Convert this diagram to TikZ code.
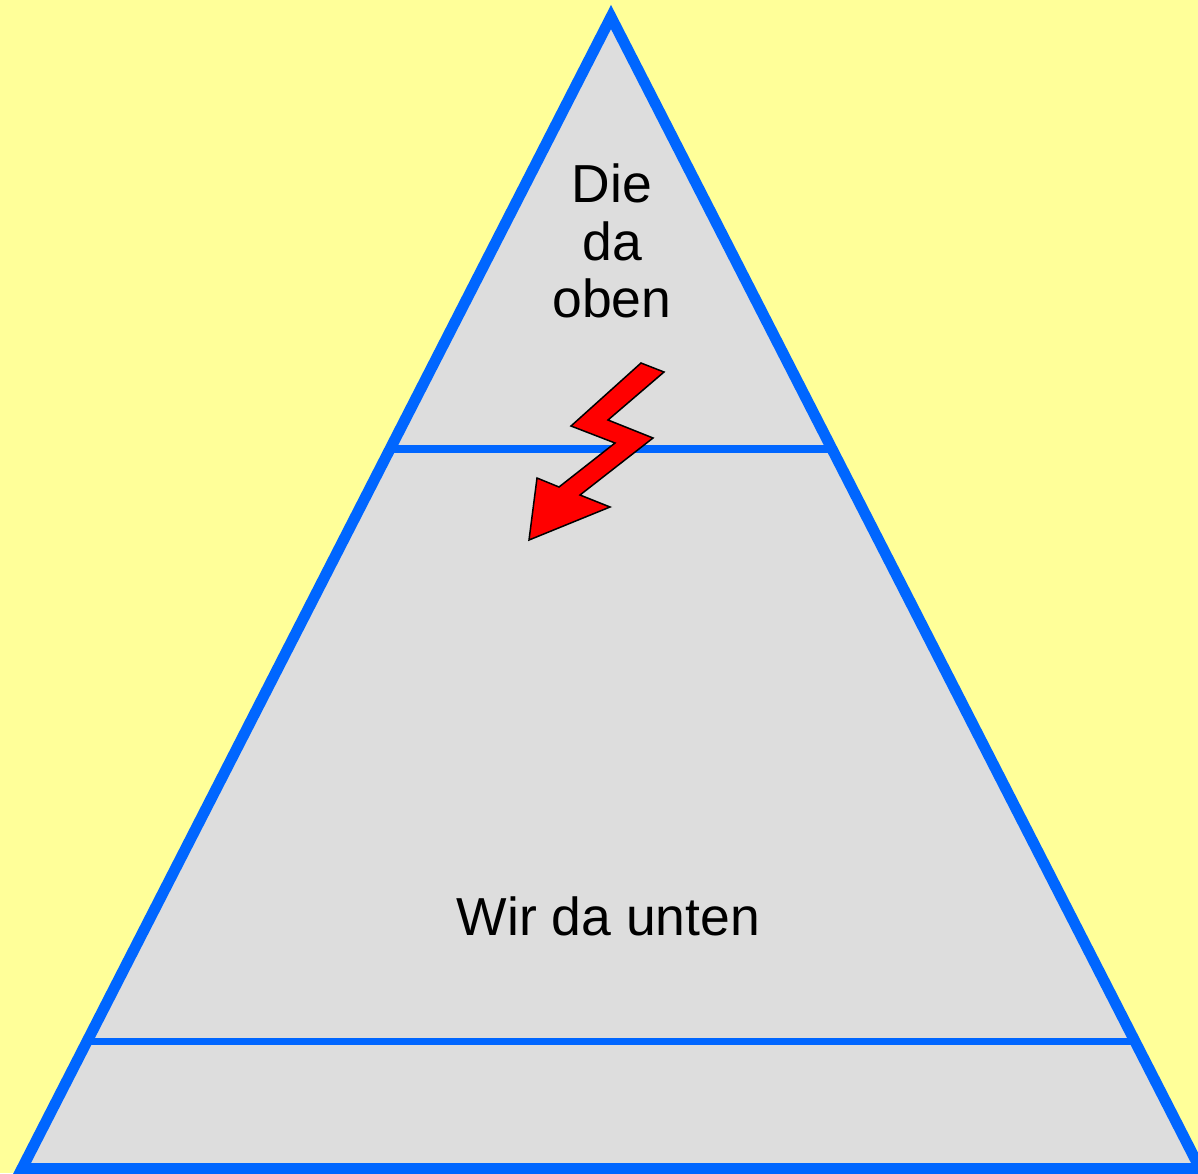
\documentclass[tikz,border=0pt]{standalone}
\usepackage{fontspec}
\setmainfont{Liberation Sans}
\definecolor{bgyellow}{HTML}{FFFF99}
\definecolor{pyrfill}{HTML}{DDDDDD}
\definecolor{pyrblue}{HTML}{0066FF}
\begin{document}
\begin{tikzpicture}[x=1pt,y=-1pt,
  edge/.style={draw=pyrblue,line width=11pt,line join=miter},
  divider/.style={draw=pyrblue,line width=7.5pt},
  label/.style={font=\fontsize{53.5pt}{58pt}\selectfont,inner sep=0pt,anchor=base},
  bolt/.style={fill=red,draw=black,line width=1.5pt,line join=miter}]
\useasboundingbox (0,0) rectangle (1198,1173);
\fill[bgyellow] (0,0) rectangle (1198,1173);
\coordinate (apex) at (611,17);
\coordinate (bl) at (22,1168.5);
\coordinate (br) at (1200,1168.5);
\fill[pyrfill] (apex) -- (br) -- (bl) -- cycle;
\coordinate (d1l) at (389,449);
\coordinate (d1r) at (833,449);
\coordinate (d2l) at (86,1041.5);
\coordinate (d2r) at (1136,1041.5);
\draw[divider] (d1l) -- (d1r);
\draw[divider] (d2l) -- (d2r);
\draw[edge] (apex) -- (br) -- (bl) -- cycle;
\path[bolt] (641,363) -- (664,372) -- (608,420) -- (653,438) -- (580,495) -- (610,507)
  -- (529,540) -- (537,478) -- (559,487) -- (615,443) -- (571,426) -- cycle;
\node[label] (die) at (612,202) {Die};
\node[label] (da) at (612,260) {da};
\node[label] (oben) at (612,317) {oben};
\node[label] (wir) at (608.5,935) {Wir da unten};
\end{tikzpicture}
\end{document}
